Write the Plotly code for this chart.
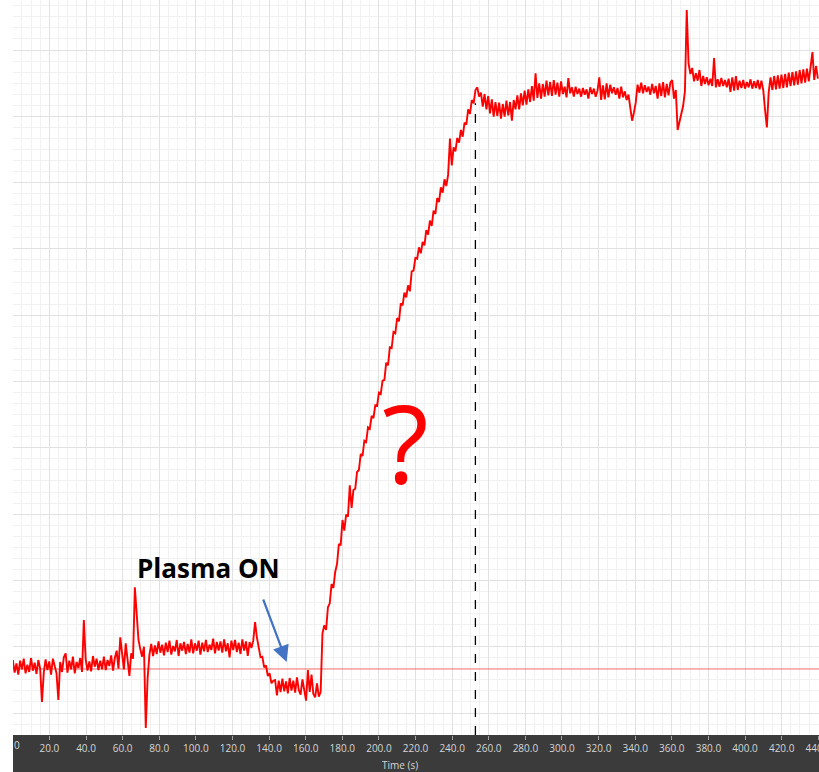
import plotly.graph_objects as go

# ---------------- data ----------------
sample_period_s = 0.995  # time base of the logged signal

signal = [
    # baseline before plasma
    8.4, 6.5, 7.9, 6.2, 8.3, 7.0, 8.6, 6.4, 7.7, 6.6,
    8.7, 6.8, 8.0, 6.3, 8.4, 7.1, 2.1, 6.5, 8.5, 6.9,
    8.2, 6.2, 8.6, 7.3, 6.4, 2.4, 8.1, 6.6, 8.8, 9.4,
    6.5, 8.3, 7.0, 8.9, 6.4, 8.1, 7.2, 8.7, 6.6, 14.4,
    8.5, 6.8, 8.2, 6.7, 9.0, 7.4, 8.6, 6.9, 8.3, 7.0,
    8.9, 6.9, 8.4, 7.5, 9.1, 6.8, 8.7, 9.8, 7.1, 11.8,
    8.9, 7.0, 10.9, 8.1, 6.0, 9.4, 8.6,
    19.3, 15.5, 11.4, 10.0, 8.9, 10.4, -1.8, 5.6, 9.2,
    # second level
    10.8, 9.0, 10.6, 9.3, 11.2, 9.5, 10.7, 9.1, 11.0, 9.6,
    11.3, 9.2, 10.5, 9.7, 11.4, 9.0, 10.9, 9.8, 11.1, 9.3,
    10.8, 9.5, 11.5, 9.4, 10.9, 9.8, 11.3, 9.2, 11.0, 9.7,
    11.4, 9.6, 10.7, 9.9, 11.6, 9.4, 11.1, 9.8, 11.2, 9.5,
    11.5, 9.7, 10.9, 8.8, 11.3, 9.9, 11.4, 9.6, 11.0, 9.3,
    11.5, 9.8, 11.2, 9.0, 11.1, 10.2, 11.3,
    # plasma on: drop
    14.1, 11.8, 10.4, 8.8, 8.9, 7.3, 7.6, 6.0, 6.4, 4.9, 5.3,
    5.4, 3.1, 5.3, 3.6, 5.6, 3.7, 5.2, 3.4, 5.7, 3.8,
    5.3, 3.5, 5.8, 3.9, 3.2, 5.5, 3.7, 2.3, 6.9, 3.6,
    6.2, 3.3, 2.8, 4.9, 2.9, 3.6,
    # ramp
    12.4, 13.6, 12.9, 16.3, 16.9, 19.8, 19.2, 21.6, 22.8, 25.8,
    25.6, 29.4, 27.8, 30.2, 29.9, 34.6, 31.2, 33.9, 34.1, 36.6,
    36.9, 39.3, 39.0, 41.3, 41.1, 43.3, 43.1, 45.0, 44.7, 46.6,
    46.5, 48.5, 48.3, 50.3, 50.4, 53.0, 52.6, 55.3, 55.2, 57.6,
    57.4, 59.7, 59.2, 61.9, 61.6, 63.5, 62.8, 64.6, 63.7, 66.7,
    66.8, 68.7, 68.6, 70.3, 69.4, 71.1, 70.6, 72.9, 72.2, 74.3,
    73.5, 75.8, 75.3, 77.7, 77.1, 79.3, 78.5, 80.5, 79.5, 81.2,
    86.6, 82.6, 85.3, 84.7, 86.7, 86.0, 87.9, 86.9, 89.0, 88.7,
    91.0, 90.3, 92.4, 91.9, 93.9, 94.3, 92.9, 93.5, 91.4, 93.3,
    # top plateau
    91.0, 93.0, 90.4, 92.5, 89.9, 92.1, 90.0, 92.0, 89.6, 91.8,
    89.9, 92.3, 90.1, 92.1, 89.3, 92.4, 91.0, 93.1, 91.0, 93.4,
    91.6, 93.8, 91.7, 94.0, 92.1, 94.5, 92.3, 96.4, 92.7, 94.9,
    92.6, 94.8, 92.9, 95.3, 93.1, 95.1, 93.0, 95.4, 93.2, 95.0,
    92.9, 95.2, 93.3, 94.4, 92.8, 95.7, 93.4, 94.3, 92.9, 94.4,
    93.3, 94.1, 92.9, 94.2, 93.2, 94.0, 92.6, 94.3, 93.3, 94.1,
    92.9, 93.8, 95.8, 92.4, 94.6, 92.5, 94.9, 92.8, 94.7, 93.4,
    94.3, 93.2, 94.2, 92.6, 94.4, 92.8, 93.7, 92.4, 93.2, 91.0,
    89.3, 90.5, 92.0, 94.7, 93.5, 95.0, 93.4, 94.6, 93.6, 94.4,
    93.2, 94.8, 93.4, 94.5, 92.6, 94.9, 93.0, 95.1, 92.8, 94.8,
    93.1, 95.0, 95.4, 92.6, 93.9, 87.9, 89.3, 90.6, 91.5, 93.7,
    105.9, 97.9, 96.3, 97.2, 95.2, 96.4, 95.3, 96.9, 94.5, 96.0,
    94.8, 95.8, 94.6, 95.6, 94.5, 98.7, 94.3, 95.5, 94.4, 95.7,
    94.5, 95.4, 94.3, 95.6, 93.6, 95.8, 93.8, 96.0, 93.9, 95.3,
    94.2, 95.4, 94.1, 95.1, 94.3, 95.5, 94.1, 95.2, 94.2, 95.4,
    94.0, 95.3, 93.9, 90.9, 88.3, 93.6, 95.8, 93.9, 96.0, 94.0,
    96.1, 94.1, 96.2, 94.2, 96.3, 94.3, 96.5, 94.5, 96.6, 94.6,
    96.7, 94.7, 96.9, 94.9, 97.0, 95.0, 97.1, 95.2, 97.2, 99.6, 95.4, 97.5, 95.6,
]
time_s = [round(i * sample_period_s, 3) for i in range(len(signal))]

reference_level = 7.05      # thin horizontal red line
marker_time = 252.7         # dashed vertical marker (s)
marker_top = 91.9           # where the dashed marker meets the trace
arrow_head = (149.6, 8.1)   # "Plasma ON" arrow tip (time, value)
label_plasma = (106.7, 22.2)
label_question = (214.5, 41.0)

x_range = [0.1, 440.4]
y_range = [-2.85, 107.4]

# ---------------- figure ----------------
W, H = 819, 772
ML, MB = 13, 37
plot_h = H - MB

fig = go.Figure()
fig.add_trace(go.Scatter(
    x=time_s, y=signal, mode="lines",
    line=dict(color="#ff0000", width=1.9),
    hoverinfo="skip", showlegend=False,
))

shapes = [
    # dark axis band
    dict(type="rect", xref="paper", yref="paper", x0=0, x1=1,
         y0=-MB / plot_h, y1=0, fillcolor="#3b3b3b", line=dict(width=0),
         layer="below"),
    # reference level line
    dict(type="line", xref="paper", yref="y", x0=0, x1=1,
         y0=reference_level, y1=reference_level,
         line=dict(color="rgba(255,0,0,0.55)", width=1)),
    # dashed marker
    dict(type="line", xref="x", yref="y", x0=marker_time, x1=marker_time,
         y0=y_range[0], y1=marker_top,
         line=dict(color="black", width=1.3, dash="dash")),
]

annotations = [
    dict(x=label_plasma[0], y=label_plasma[1], xref="x", yref="y",
         text="<b>Plasma ON</b>", showarrow=False,
         font=dict(family="Open Sans", size=26, color="black")),
    dict(x=arrow_head[0], y=arrow_head[1], xref="x", yref="y",
         ax=-24, ay=-64, axref="pixel", ayref="pixel", text="",
         showarrow=True, arrowhead=2, arrowsize=1.5, arrowwidth=2.2,
         arrowcolor="#4472C4"),
    dict(x=label_question[0], y=label_question[1], xref="x", yref="y",
         text="?", showarrow=False,
         font=dict(family="Open Sans", size=108, color="#ff0000")),
    dict(x=(400 - ML) / (W - ML), y=-30 / plot_h, xref="paper", yref="paper",
         text="Time (s)", showarrow=False, xanchor="center", yanchor="middle",
         font=dict(family="Open Sans", size=10, color="#d6d6d6")),
    dict(x=0, y=-10 / plot_h, xref="paper", yref="paper",
         text="0", showarrow=False, xanchor="left", yanchor="middle",
         xshift=-1,
         font=dict(family="Open Sans", size=10, color="#d6d6d6")),
]

fig.update_layout(
    width=W, height=H,
    margin=dict(l=ML, r=0, t=0, b=MB, pad=0, autoexpand=False),
    paper_bgcolor="white", plot_bgcolor="white",
    shapes=shapes, annotations=annotations,
    showlegend=False,
    xaxis=dict(
        range=x_range, tick0=0, dtick=20, tickformat=".1f",
        ticklabeloverflow="allow", automargin=False,
        showgrid=True, gridcolor="#e2e2e2", gridwidth=1,
        zeroline=False, showline=False,
        ticks="outside", ticklen=4, tickcolor="#a0a0a0", tickwidth=1,
        tickfont=dict(family="Open Sans", size=10, color="#d6d6d6"),
        minor=dict(dtick=5, tick0=0, showgrid=True, gridcolor="#f1f1f1",
                   ticks=""),
        fixedrange=True,
    ),
    yaxis=dict(
        range=y_range, tick0=0.45, dtick=9.945, automargin=False,
        showgrid=True, gridcolor="#e2e2e2", gridwidth=1,
        zeroline=False, showline=False, showticklabels=False, ticks="",
        minor=dict(dtick=9.945 / 6, tick0=0.45, showgrid=True,
                   gridcolor="#f1f1f1", ticks=""),
        fixedrange=True,
    ),
)

fig.write_html(
    "out.html",
    config={"displayModeBar": False},
    post_script="document.body.style.margin='0';"
                "document.body.style.overflow='hidden';",
)
